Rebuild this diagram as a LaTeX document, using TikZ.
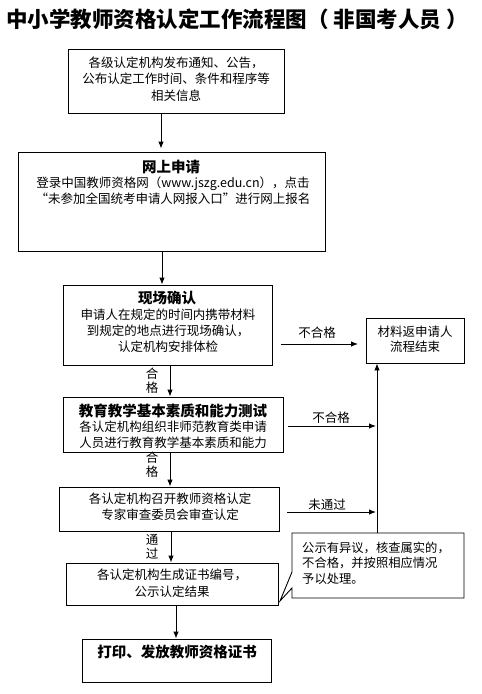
\documentclass[tikz,border=0pt]{standalone}
\usepackage{fontspec}
\setmainfont{Noto Sans CJK SC}
\usetikzlibrary{arrows.meta}
\begin{document}
\begin{tikzpicture}[x=1pt,y=-1pt,
  box/.style={draw, line width=0.9pt, inner sep=0pt, fill=white},
  arr/.style={-{Latex[length=7pt,width=5.5pt]}, line width=0.9pt},
  body/.style={font=\fontsize{12.5}{16.5}\selectfont, align=center, inner sep=0pt},
  lbl/.style={font=\fontsize{12.5}{14}\selectfont, align=center, inner sep=0pt},
  ttl/.style={font=\bfseries\fontsize{14.5}{17}\selectfont, inner sep=0pt}]
\useasboundingbox (0,0) rectangle (482,694);
% title
\node[font=\bfseries\fontsize{21.5}{24}\selectfont, inner sep=0pt, anchor=west] (title) at (6,19) {中小学教师资格认定工作流程图（\hspace{5pt}非国考人员\hspace{5pt}）};
% boxes
\node[box, minimum width=216pt, minimum height=64pt] (b1) at (176,81) {};
\node[body] (t1) at (176,79) {各级认定机构发布通知、公告，\\公布认定工作时间、条件和程序等\\相关信息};
\node[box, minimum width=307pt, minimum height=99pt] (b2) at (171.5,201.5) {};
\node[ttl] (h2) at (171,167) {网上申请};
\node[body, font=\fontsize{12.5}{16}\selectfont] (t2) at (173,191) {登录中国教师资格网（www.jszg.edu.cn），点击\\“未参加全国统考申请人网报入口”进行网上报名};
\node[box, minimum width=209pt, minimum height=80pt] (b3) at (167.5,325) {};
\node[ttl] (h3) at (167,298) {现场确认};
\node[body, font=\fontsize{12.5}{16}\selectfont] (t3) at (168,331) {申请人在规定的时间内携带材料\\到规定的地点进行现场确认，\\认定机构安排体检};
\node[box, minimum width=98pt, minimum height=45pt] (rb) at (415,340.5) {};
\node[body, font=\fontsize{12.5}{15}\selectfont] (trb) at (415,339) {材料返申请人\\流程结束};
\node[box, minimum width=220pt, minimum height=55pt] (b4) at (173,424.5) {};
\node[ttl] (h4) at (173,411) {教育教学基本素质和能力测试};
\node[body, font=\fontsize{12.5}{16}\selectfont] (t4) at (173,435) {各认定机构组织非师范教育类申请\\人员进行教育教学基本素质和能力};
\node[box, minimum width=220pt, minimum height=44pt] (b5) at (169,509) {};
\node[body, font=\fontsize{12.5}{16}\selectfont] (t5) at (170,507) {各认定机构召开教师资格认定\\专家审查委员会审查认定};
\node[box, minimum width=212pt, minimum height=42pt] (b6) at (172,584) {};
\node[body, font=\fontsize{12.5}{17}\selectfont] (t6) at (172,583) {各认定机构生成证书编号，\\公示认定结果};
\node[box, minimum width=189pt, minimum height=43pt] (b7) at (176.5,660.5) {};
\node[ttl] (h7) at (177,652) {打印、发放教师资格证书};
% callout
\draw[line width=0.9pt, fill=white] (292,533) -- (464,533) -- (464,598) -- (292,598) -- (292,588) -- (280,601) -- (292,572) -- cycle;
\node[body, align=left, anchor=west, font=\fontsize{12.3}{15.5}\selectfont] (tc) at (302,563) {公示有异议，核查属实的，\\不合格，并按照相应情况\\予以处理。};
% x positions for vertical arrows
\coordinate (x1) at (161,0);
\coordinate (x2) at (162,0);
\coordinate (x3) at (170,0);
\coordinate (x5) at (171,0);
\coordinate (x6) at (176,0);
\draw[arr] (b1.south -| x1) -- ([yshift=3pt]b2.north -| x1);
\draw[arr] (b2.south -| x2) -- (b3.north -| x2);
\draw[arr] (b3.south -| x3) -- (b4.north -| x3);
\draw[arr] (b4.south -| x3) -- (b5.north -| x3);
\draw[arr] (b5.south -| x5) -- (b6.north -| x5);
\draw[arr] (b6.south -| x6) -- (b7.north -| x6);
\node[lbl] (l3) at (152,381) {合\\格};
\node[lbl] (l4) at (152,465) {合\\格};
\node[lbl] (l5) at (152,547) {通\\过};
% right side
\coordinate (s3) at (281,344);
\coordinate (e3) at (358,344);
\draw[arr] (s3) -- (e3);
\node[lbl] (n3) at (317,333) {不合格};
\coordinate (vb) at (377,533);
\draw[arr] (vb) -- (rb.south -| vb);
\coordinate (s4) at (288,426);
\coordinate (e4) at (376,426);
\draw[arr] (s4) -- (e4);
\node[lbl] (n4) at (331,418) {不合格};
\coordinate (s5) at (287,512);
\coordinate (e5) at (376,512);
\draw[arr] (s5) -- (e5);
\node[lbl] (n5) at (327,505) {未通过};
\end{tikzpicture}
\end{document}
